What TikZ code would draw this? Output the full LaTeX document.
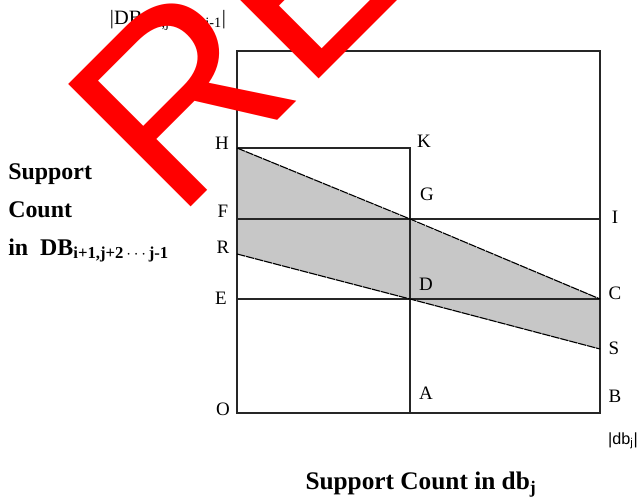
\documentclass[tikz,border=0pt]{standalone}
\usepackage{fontspec}
\setmainfont{Liberation Serif}
\newfontfamily\stampfont{Liberation Sans}
\newfontfamily\unitfont{Liberation Sans}
\usetikzlibrary{positioning}

\begin{document}
\begin{tikzpicture}[x=0.025cm,y=-0.025cm,
lbl/.style={inner sep=0pt,font=\fontsize{13.5}{16}\selectfont},
axistext/.style={inner sep=0pt,align=left,font=\bfseries\fontsize{17}{27}\selectfont},
frame/.style={line width=0.9pt,black!85},
bound/.style={line width=0.8pt,dash pattern=on 6pt off 0.6pt},
stamp/.style={inner sep=0pt,text=red,font=\stampfont\fontsize{179}{179}\selectfont}]
\useasboundingbox (0,0) rectangle (640,498);
\coordinate (O) at (237,413);
\coordinate (A) at (410,413);
\coordinate (B) at (600,413);
\coordinate (E) at (237,299);
\coordinate (D) at (410,299);
\coordinate (C) at (600,299);
\coordinate (F) at (237,219);
\coordinate (G) at (410,219);
\coordinate (I) at (600,219);
\coordinate (H) at (237,148);
\coordinate (K) at (410,148);
\coordinate (R) at (237,254);
\coordinate (S) at (600,349);
\coordinate (T) at (237,51);
\coordinate (U) at (600,51);
\fill[black!22] (H)--(C)--(S)--(R)--cycle;
\draw[frame] (O)--(B)--(U)--(T)--cycle;
\draw[frame] (H)--(K)--(A);
\draw[frame] (F)--(I);
\draw[frame] (E)--(C);
\draw[bound] (H)--(G)--(C);
\draw[bound] (R)--(D)--(S);
\node[lbl] (lH) at (222,143) {H};
\node[lbl] (lK) at (424,141) {K};
\node[lbl] (lG) at (427,194) {G};
\node[lbl] (lF) at (223,211) {F};
\node[lbl] (lI) at (615,217) {I};
\node[lbl] (lR) at (223,247) {R};
\node[lbl] (lD) at (426,284) {D};
\node[lbl] (lE) at (221,298) {E};
\node[lbl] (lC) at (615,293) {C};
\node[lbl] (lS) at (614,348) {S};
\node[lbl] (lA) at (426,393) {A};
\node[lbl] (lB) at (615,396) {B};
\node[lbl] (lO) at (223,409) {O};
\node[lbl,font=\fontsize{14.5}{17}\selectfont] (ytop) at (168,20) {|DB\textsubscript{i+1,j+2\,$\cdots$\,j-1}|};
\node[axistext,anchor=west] (ylabel) at (8,213) {Support\\Count\\in~~DB\textsubscript{i+1,j+2\,$\cdots$\,j-1}};
\node[inner sep=0pt,font=\unitfont\fontsize{11.5}{13}\selectfont] (xunit) at (623,441) {|db\textsubscript{j}|};
\node[axistext,font=\bfseries\fontsize{18}{21}\selectfont] (xlabel) at (421,485) {Support Count in~db\textsubscript{j}};
\begin{scope}
\clip (0,0) rectangle (640,498);
\node[stamp,rotate=45,anchor=base west] (stampRE) at (176,222) {RE};
\end{scope}
\end{tikzpicture}
\end{document}
